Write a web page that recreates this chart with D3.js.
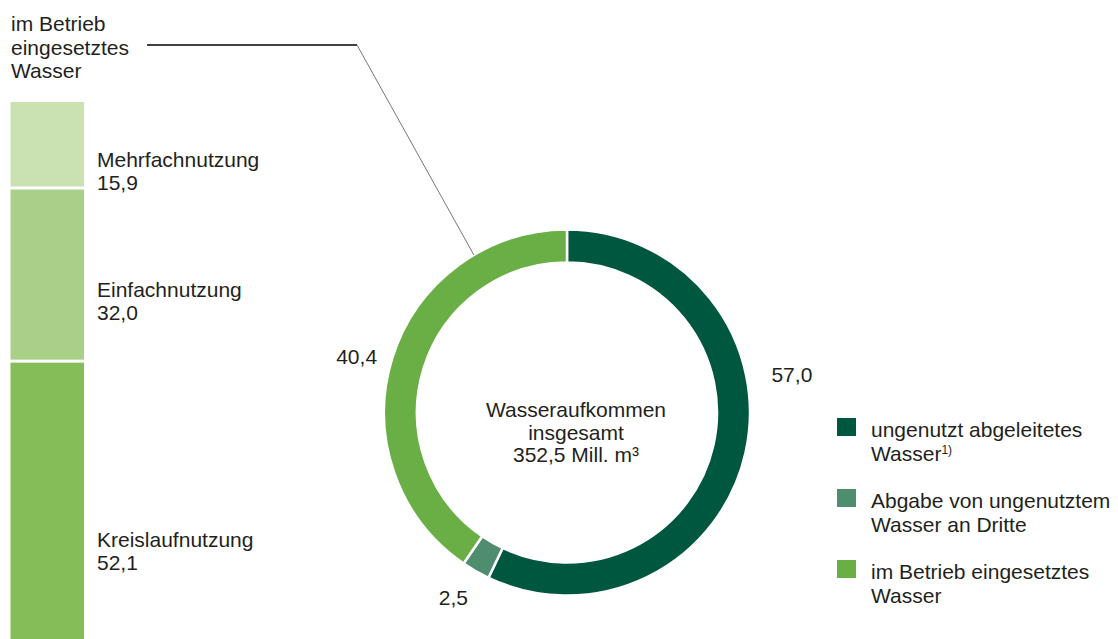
<!DOCTYPE html>
<html><head><meta charset="utf-8">
<script src="https://cdn.jsdelivr.net/npm/d3@7"></script>
<style>
html,body{margin:0;padding:0;background:#fff;}
text{font-family:"Liberation Sans",Arial,sans-serif;fill:#231f20;}
</style></head>
<body>
<svg id="c" width="1118" height="639"></svg>
<script>
// ---- data ----
const barCategories = ["Mehrfachnutzung", "Einfachnutzung", "Kreislaufnutzung"];
const barValues = [15.9, 32.0, 52.1];
const barValueLabels = ["15,9", "32,0", "52,1"];
const barTitle = ["im Betrieb", "eingesetztes", "Wasser"];

const donutCategories = ["ungenutzt abgeleitetes Wasser", "Abgabe von ungenutztem Wasser an Dritte", "im Betrieb eingesetztes Wasser"];
const donutValues = [57.0, 2.5, 40.4];
const donutValueLabels = ["57,0", "2,5", "40,4"];
const centerText = ["Wasseraufkommen", "insgesamt", "352,5 Mill. m³"];
const legendLines = [["ungenutzt abgeleitetes", "Wasser"], ["Abgabe von ungenutztem", "Wasser an Dritte"], ["im Betrieb eingesetztes", "Wasser"]];

// ---- styles / layout ----
const barColors = ["#cae1b2", "#a9cf88", "#85bd58"];
const donutColors = ["#00573f", "#4f8d6f", "#6aaf46"];
const FS = 21;

const svg = d3.select("#c");

// ---- stacked bar ----
const y = d3.scaleLinear().domain([0, 100]).range([102, 643]);
const x0 = 10.5, x1 = 84;
let cum = 0;
const stack = barValues.map((v, i) => { const s = cum; cum += v; return {i, s, e: cum}; });
const gap = 1.5;
svg.append("g").selectAll("rect").data(stack).join("rect")
  .attr("x", x0).attr("width", x1 - x0)
  .attr("y", d => y(d.s) + (d.i > 0 ? gap : 0))
  .attr("height", d => y(d.e) - y(d.s) - (d.i > 0 ? gap : 0) - (d.i < 2 ? gap : 0))
  .attr("fill", d => barColors[d.i]);

const labelDy = [22, 22, 45];
const bl = svg.append("g").selectAll("text").data(stack).join("text")
  .attr("x", 97)
  .attr("y", d => (y(d.s) + y(d.e)) / 2 + labelDy[d.i])
  .style("font-size", FS + "px");
bl.append("tspan").attr("x", 97).text(d => barCategories[d.i]);
bl.append("tspan").attr("x", 97).attr("dy", 23).text(d => barValueLabels[d.i]);

const tt = svg.append("text").attr("x", 11).attr("y", 31).style("font-size", FS + "px");
barTitle.forEach((t, k) => tt.append("tspan").attr("x", 11).attr("dy", k ? 23.5 : 0).text(t));

// ---- donut ----
const cx = 567, cy = 412.5, R = 183, r = 150;
const pie = d3.pie().sort(null).value(d => d)(donutValues);
const arc = d3.arc().innerRadius(r).outerRadius(R);
const g = svg.append("g").attr("transform", `translate(${cx},${cy})`);
g.selectAll("path").data(pie).join("path")
  .attr("d", arc).attr("fill", (d, i) => donutColors[i])
  .attr("stroke", "#fff").attr("stroke-width", 2.5);

// value labels
const labelAngleDeg = [79.4, 211.6, 286.4];
const labelR = [208, 217, 198];
const anchors = ["start", "middle", "end"];
g.selectAll("text.v").data(pie).join("text").attr("class", "v")
  .attr("x", (d, i) => labelR[i] * Math.sin(labelAngleDeg[i] * Math.PI / 180))
  .attr("y", (d, i) => -labelR[i] * Math.cos(labelAngleDeg[i] * Math.PI / 180))
  .attr("dy", "0.35em")
  .attr("text-anchor", (d, i) => anchors[i])
  .style("font-size", FS + "px")
  .text((d, i) => donutValueLabels[i]);

// center text
const ct = g.append("text").attr("text-anchor", "middle").attr("y", 4.5).style("font-size", FS + "px");
centerText.forEach((t, k) => ct.append("tspan").attr("x", 9).attr("dy", k ? 22.5 : 0).text(t));

// leader line
const la = -30.6 * Math.PI / 180;
const ex = cx + R * Math.sin(la), ey = cy - R * Math.cos(la);
svg.append("line").attr("x1", 147).attr("y1", 45).attr("x2", 357).attr("y2", 45)
  .attr("stroke", "#000").attr("stroke-width", 1.3);
svg.append("line").attr("x1", 357).attr("y1", 45).attr("x2", ex).attr("y2", ey)
  .attr("stroke", "#777").attr("stroke-width", 1);

// ---- legend ----
const lg = svg.append("g").selectAll("g").data(donutCategories).join("g")
  .attr("transform", (d, i) => `translate(837,${418 + i * 71})`);
lg.append("rect").attr("width", 19).attr("height", 18).attr("fill", (d, i) => donutColors[i]);
const lt = lg.append("text").attr("x", 34).attr("y", 19).style("font-size", FS + "px");
lt.append("tspan").attr("x", 34).text((d, i) => legendLines[i][0]);
lt.append("tspan").attr("x", 34).attr("dy", 23.5).text((d, i) => legendLines[i][1]);
lt.filter((d, i) => i === 0).append("tspan").attr("dy", -7).style("font-size", "12px").text("1)");
</script>
</body></html>
